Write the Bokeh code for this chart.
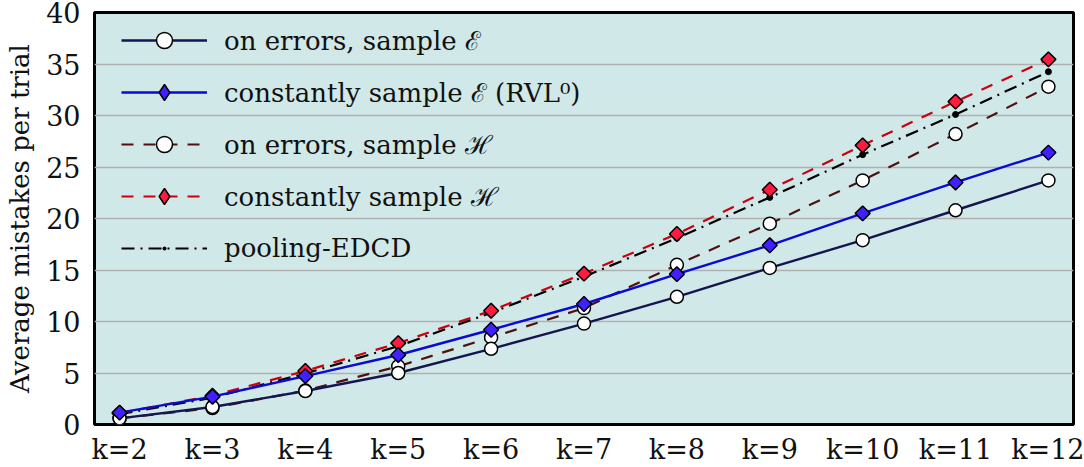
from bokeh.plotting import figure
from bokeh.models import Legend, LegendItem, FixedTicker
from bokeh.embed import file_html
from bokeh.resources import INLINE

# ---- data ----
k_values = [2, 3, 4, 5, 6, 7, 8, 9, 10, 11, 12]
tick_labels = ["k=2", "k=3", "k=4", "k=5", "k=6", "k=7", "k=8", "k=9", "k=10", "k=11", "k=12"]
on_errors_E = [0.6, 1.7, 3.25, 5.0, 7.35, 9.8, 12.4, 15.2, 17.9, 20.8, 23.7]
const_E = [1.15, 2.7, 4.7, 6.75, 9.2, 11.7, 14.6, 17.4, 20.5, 23.5, 26.4]
on_errors_H = [0.6, 1.6, 3.3, 5.65, 8.45, 11.3, 15.5, 19.5, 23.7, 28.2, 32.8]
const_H = [1.1, 2.8, 5.2, 7.9, 11.05, 14.65, 18.5, 22.8, 27.1, 31.35, 35.45]
pooling = [1.0, 2.6, 4.95, 7.6, 10.85, 14.35, 18.1, 22.05, 26.2, 30.1, 34.25]
y_ticks = [0, 5, 10, 15, 20, 25, 30, 35, 40]
y_label = "Average mistakes per trial"
legend_labels = [
    "on errors, sample \u2130",
    "constantly sample \u2130 (RVL\u2070)",
    "on errors, sample \u210b",
    "constantly sample \u210b",
    "pooling-EDCD",
]

FONT = "DejaVu Serif"
NAN = float("nan")

p = figure(width=1084, height=467, x_range=(1.73, 12.27), y_range=(0, 40),
           output_backend="svg", toolbar_location=None,
           min_border_left=94, min_border_right=11, min_border_top=12, min_border_bottom=40)

p.background_fill_color = "#d0e8e8"
p.border_fill_color = "white"
p.outline_line_color = "black"
p.outline_line_width = 3

# grid
p.xgrid.visible = False
p.ygrid.ticker = FixedTicker(ticks=[5, 10, 15, 20, 25, 30, 35])
p.ygrid.grid_line_color = "#b0b0b0"
p.ygrid.grid_line_width = 1.5

# axes
p.xaxis.ticker = FixedTicker(ticks=k_values)
p.xaxis.major_label_overrides = {k: lab for k, lab in zip(k_values, tick_labels)}
p.yaxis.ticker = FixedTicker(ticks=y_ticks)
for ax in (p.xaxis, p.yaxis):
    ax.axis_line_color = None
    ax.major_tick_line_color = None
    ax.minor_tick_line_color = None
    ax.major_tick_in = 0
    ax.major_tick_out = 0
    ax.minor_tick_in = 0
    ax.minor_tick_out = 0
    ax.major_label_text_font = FONT
    ax.major_label_text_font_size = "27px"
    ax.major_label_text_color = "#111111"
p.xaxis.major_label_standoff = 9
p.yaxis.major_label_standoff = 14
p.yaxis.axis_label = y_label
p.yaxis.axis_label_text_font = FONT
p.yaxis.axis_label_text_font_size = "26px"
p.yaxis.axis_label_text_font_style = "normal"
p.yaxis.axis_label_text_color = "#111111"
p.yaxis.axis_label_standoff = 8

# series (draw order chosen to match overlaps)
r_pool_l = p.line(k_values, pooling, line_color="black", line_width=2.2, line_dash="13 6 2 6")
r_pool_m = p.scatter(k_values, pooling, marker="circle", size=6, fill_color="black", line_color="black")

r_oeH_l = p.line(k_values, on_errors_H, line_color="#501010", line_width=2.2, line_dash="12 10")
r_oeH_m = p.scatter(k_values, on_errors_H, marker="circle", size=13, fill_color="white",
                    line_color="black", line_width=1.5)

r_cH_l = p.line(k_values, const_H, line_color="#c80010", line_width=2.2, line_dash="12 10")
r_cH_m = p.scatter(k_values, const_H, marker="square", angle=0.785398, size=10.5,
                   fill_color="#ff1a40", line_color="black", line_width=1.5)

r_oeE_l = p.line(k_values, on_errors_E, line_color="#151550", line_width=2.4)
r_oeE_m = p.scatter(k_values, on_errors_E, marker="circle", size=13, fill_color="white",
                    line_color="black", line_width=1.5)

r_cE_l = p.line(k_values, const_E, line_color="#0a0ad0", line_width=2.4)
r_cE_m = p.scatter(k_values, const_E, marker="square", angle=0.785398, size=10.5,
                   fill_color="#4020ff", line_color="black", line_width=1.5)

# legend-only marker renderers (no visible point) so the legend shows diamonds / small dots
lg_cE = p.scatter(x=[NAN], y=[NAN], marker="diamond", fill_color="#4020ff", line_color="black", line_width=1.5)
lg_cH = p.scatter(x=[NAN], y=[NAN], marker="diamond", fill_color="#ff1a40", line_color="black", line_width=1.5)
lg_pool = p.scatter(x=[NAN], y=[NAN], marker="dot", line_color="black", fill_color="black", line_width=2)

items = [
    LegendItem(label=legend_labels[0], renderers=[r_oeE_l, r_oeE_m]),
    LegendItem(label=legend_labels[1], renderers=[r_cE_l, lg_cE]),
    LegendItem(label=legend_labels[2], renderers=[r_oeH_l, r_oeH_m]),
    LegendItem(label=legend_labels[3], renderers=[r_cH_l, lg_cH]),
    LegendItem(label=legend_labels[4], renderers=[r_pool_l, lg_pool]),
]
legend = Legend(items=items, location=(17, 146), padding=10, margin=0,
                spacing=12, glyph_width=86, glyph_height=40, label_height=40,
                label_standoff=17,
                label_text_font=FONT, label_text_font_size="26px", label_text_color="#111111",
                background_fill_alpha=0, border_line_alpha=0)
p.add_layout(legend, "center")

open("out.html", "w").write(file_html(p, INLINE))
